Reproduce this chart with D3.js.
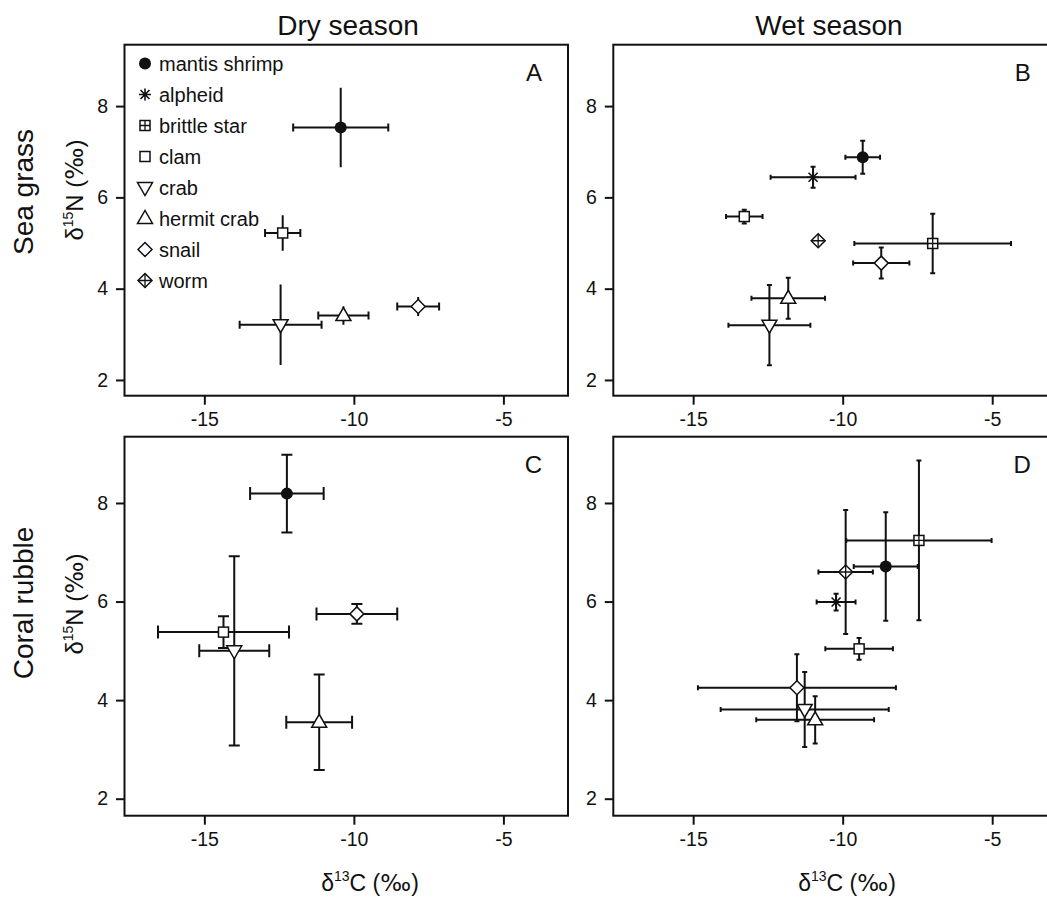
<!DOCTYPE html>
<html lang="en">

<head>
    <meta charset="UTF-8" />
    <title>Stable isotopes by season and habitat</title>
    <script src="https://d3js.org/d3.v7.js"></script>
    <style>
        body { margin: 0; background: #fff; }
        text { font-family: "Liberation Sans", Arial, sans-serif; fill: #111; }
    </style>
</head>

<body>
    <script>
        var w = 1047;
        var h = 898;

        // species and legend order
        var species = ["mantis shrimp", "alpheid", "brittle star", "clam", "crab", "hermit crab", "snail", "worm"];
        var markers = ["circle", "asterisk", "boxplus", "square", "triDown", "triUp", "diamond", "diamondplus"];

        var xTicks = [-15, -10, -5];
        var yTicks = [2, 4, 6, 8];
        var xDomain = [-17.67, -2.84];
        var yDomain = [1.655, 9.345];

        // A - dry season, sea grass (null = not sampled)
        var dryGrassX = [-10.44, null, null, -12.38, -12.45, -10.35, -7.85, null];
        var dryGrassY = [7.53, null, null, 5.22, 3.21, 3.41, 3.61, null];
        var dryGrassXe = [1.59, null, null, 0.59, 1.37, 0.84, 0.70, null];
        var dryGrassYe = [0.87, null, null, 0.39, 0.88, 0.20, 0.21, null];

        // B - wet season, sea grass
        var wetGrassX = [-9.33, -10.99, -6.99, -13.29, -12.45, -11.82, -8.71, -10.82];
        var wetGrassY = [6.88, 6.44, 4.99, 5.58, 3.20, 3.79, 4.56, 5.05];
        var wetGrassXe = [0.58, 1.42, 2.62, 0.61, 1.37, 1.23, 0.94, 0.10];
        var wetGrassYe = [0.36, 0.23, 0.65, 0.15, 0.88, 0.45, 0.34, 0.08];

        // C - dry season, coral rubble
        var dryCoralX = [-12.24, null, null, -14.36, -14.00, -11.16, -9.90, null];
        var dryCoralY = [8.19, null, null, 5.38, 5.00, 3.55, 5.75, null];
        var dryCoralXe = [1.23, null, null, 2.19, 1.17, 1.10, 1.35, null];
        var dryCoralYe = [0.79, null, null, 0.32, 1.92, 0.97, 0.20, null];

        // D - wet season, coral rubble
        var wetCoralX = [-8.56, -10.22, -7.45, -9.45, -11.27, -10.92, -11.53, -9.90];
        var wetCoralY = [6.71, 5.99, 7.24, 5.04, 3.81, 3.60, 4.25, 6.60];
        var wetCoralXe = [1.07, 0.65, 2.43, 1.13, 2.81, 1.97, 3.31, 0.91];
        var wetCoralYe = [1.10, 0.17, 1.62, 0.22, 0.76, 0.48, 0.68, 1.26];

        var panels = [
            { letter: "A", x: dryGrassX, y: dryGrassY, xe: dryGrassXe, ye: dryGrassYe, left: 124.5, top: 44.7, height: 351, capX: 4, capY: 0, sw: 2 },
            { letter: "B", x: wetGrassX, y: wetGrassY, xe: wetGrassXe, ye: wetGrassYe, left: 613.3, top: 44.7, height: 351, capX: 2.5, capY: 2.5, sw: 2 },
            { letter: "C", x: dryCoralX, y: dryCoralY, xe: dryCoralXe, ye: dryCoralYe, left: 124.5, top: 436.7, height: 379, capX: 6.5, capY: 5.5, sw: 2 },
            { letter: "D", x: wetCoralX, y: wetCoralY, xe: wetCoralXe, ye: wetCoralYe, left: 613.3, top: 436.7, height: 379, capX: 2.5, capY: 2.5, sw: 2 }
        ];
        var pw = 443.5;

        var svg = d3.select("body")
            .append("svg")
            .attr("width", w)
            .attr("height", h);

        svg.append("rect").attr("width", w).attr("height", h).attr("fill", "white");

        // marker shapes, drawn around 0,0
        function drawMarker(g, type) {
            var stroke = "#111";
            if (type == "circle") {
                g.append("circle").attr("r", 6).attr("fill", stroke);
            } else if (type == "square" || type == "boxplus") {
                g.append("rect").attr("x", -5).attr("y", -5).attr("width", 10).attr("height", 10)
                    .attr("fill", "white").attr("stroke", stroke).attr("stroke-width", 1.5);
                if (type == "boxplus") {
                    g.append("path").attr("d", "M-5,0H5M0,-5V5").attr("stroke", stroke).attr("stroke-width", 1.3);
                }
            } else if (type == "triDown") {
                g.append("path").attr("d", "M-7.5,-5L7.5,-5L0,8Z")
                    .attr("fill", "white").attr("stroke", stroke).attr("stroke-width", 1.5);
            } else if (type == "triUp") {
                g.append("path").attr("d", "M-7.5,5L7.5,5L0,-8Z")
                    .attr("fill", "white").attr("stroke", stroke).attr("stroke-width", 1.5);
            } else if (type == "diamond" || type == "diamondplus") {
                g.append("path").attr("d", "M0,-7L7,0L0,7L-7,0Z")
                    .attr("fill", "white").attr("stroke", stroke).attr("stroke-width", 1.5);
                if (type == "diamondplus") {
                    g.append("path").attr("d", "M-7,0H7M0,-7V7").attr("stroke", stroke).attr("stroke-width", 1.3);
                }
            } else if (type == "asterisk") {
                g.append("path").attr("d", "M-6,0H6M0,-6V6M-4.5,-4.5L4.5,4.5M-4.5,4.5L4.5,-4.5")
                    .attr("stroke", stroke).attr("stroke-width", 1.6);
            }
        }

        panels.forEach(function (p, pi) {
            var xScale = d3.scaleLinear().domain(xDomain).range([0, pw]);
            var yScale = d3.scaleLinear().domain(yDomain).range([p.height, 0]);

            var g = svg.append("g").attr("transform", "translate(" + p.left + "," + p.top + ")");

            var xAxis = d3.axisBottom(xScale).tickValues(xTicks).tickSize(9).tickSizeOuter(0)
                .tickPadding(7.5).tickFormat(d3.format("d"));
            var yAxis = d3.axisLeft(yScale).tickValues(yTicks).tickSize(8.5).tickSizeOuter(0)
                .tickPadding(8).tickFormat(d3.format("d"));

            var gx = g.append("g").attr("transform", "translate(0," + p.height + ")").call(xAxis);
            var gy = g.append("g").call(yAxis);
            [gx, gy].forEach(function (a) {
                a.select(".domain").remove();
                a.selectAll("line").attr("stroke", "#111").attr("stroke-width", 2);
                a.selectAll("text").attr("font-size", 19.5).attr("fill", "#111")
                    .attr("font-family", "'Liberation Sans', Arial, sans-serif");
            });
            gx.selectAll("text").text(function (d) { return d3.format("d")(d).replace("\u2212", "-"); });

            // frame
            g.append("rect").attr("width", pw).attr("height", p.height)
                .attr("fill", "none").attr("stroke", "#111").attr("stroke-width", 2);

            // panel letter
            g.append("text").attr("x", pw - 26).attr("y", 36).attr("text-anchor", "end")
                .attr("font-size", 24).text(p.letter);

            var idx = d3.range(species.length).filter(function (i) { return p.x[i] != null; });

            idx.forEach(function (i) {
                var cx = xScale(p.x[i]), cy = yScale(p.y[i]);
                var x0 = xScale(p.x[i] - p.xe[i]), x1 = xScale(p.x[i] + p.xe[i]);
                var y0 = yScale(p.y[i] + p.ye[i]), y1 = yScale(p.y[i] - p.ye[i]);
                var d = "M" + x0 + "," + cy + "H" + x1 + "M" + cx + "," + y0 + "V" + y1;
                if (p.capX > 0) {
                    d += "M" + x0 + "," + (cy - p.capX) + "V" + (cy + p.capX);
                    d += "M" + x1 + "," + (cy - p.capX) + "V" + (cy + p.capX);
                }
                if (p.capY > 0) {
                    d += "M" + (cx - p.capY) + "," + y0 + "H" + (cx + p.capY);
                    d += "M" + (cx - p.capY) + "," + y1 + "H" + (cx + p.capY);
                }
                g.append("path").attr("d", d).attr("stroke", "#111")
                    .attr("stroke-width", p.sw).attr("fill", "none");
                var m = g.append("g").attr("transform", "translate(" + cx + "," + cy + ")");
                drawMarker(m, markers[i]);
            });

            // legend only in panel A
            if (pi == 0) {
                var lg = g.append("g");
                species.forEach(function (s, i) {
                    var row = lg.append("g").attr("transform", "translate(" + (145 - p.left) + "," + (63.5 + i * 31 - p.top) + ")");
                    drawMarker(row, markers[i]);
                    row.append("text").attr("x", 14).attr("dy", "0.35em").attr("font-size", 20).text(s);
                });
            }
        });

        // column titles
        svg.append("text").attr("x", 348).attr("y", 35).attr("text-anchor", "middle")
            .attr("font-size", 28).text("Dry season");
        svg.append("text").attr("x", 829).attr("y", 35).attr("text-anchor", "middle")
            .attr("font-size", 28).text("Wet season");

        // row titles
        svg.append("text").attr("transform", "translate(33,192) rotate(-90)")
            .attr("text-anchor", "middle").attr("font-size", 28).text("Sea grass");
        svg.append("text").attr("transform", "translate(33,603) rotate(-90)")
            .attr("text-anchor", "middle").attr("font-size", 28).text("Coral rubble");

        // axis titles
        function isoLabel(t, pre, sup, post) {
            t.append("tspan").text(pre);
            t.append("tspan").attr("font-size", 14).attr("dy", -10).text(sup);
            t.append("tspan").attr("dy", 10).text(post + " (");
            t.append("tspan").attr("font-family", "'DejaVu Sans', sans-serif").text("\u2030");
            t.append("tspan").text(")");
        }
        [190, 604].forEach(function (cy) {
            var t = svg.append("text").attr("transform", "translate(83," + cy + ") rotate(-90)")
                .attr("text-anchor", "middle").attr("font-size", 24);
            isoLabel(t, "\u03b4", "15", "N");
        });
        [370, 847].forEach(function (cx) {
            var t = svg.append("text").attr("x", cx).attr("y", 891)
                .attr("text-anchor", "middle").attr("font-size", 23);
            isoLabel(t, "\u03b4", "13", "C");
        });
    </script>
</body>

</html>
